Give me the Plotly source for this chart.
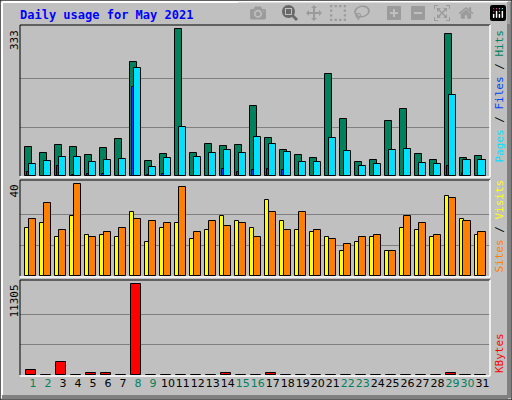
import plotly.graph_objects as go

days = list(range(1, 32))
hits = [66,52,70,66,48,63,84,258,34,50,333,52,72,68,70,159,86,59,48,41,231,129,32,36,125,152,50,36,322,41,45]
files = [27,34,43,43,32,36,39,245,20,41,111,43,52,59,52,88,72,54,32,32,86,57,23,27,59,61,29,27,183,36,36]
pages = [9,0,23,2,5,5,0,202,2,5,0,0,0,16,9,14,16,14,0,0,0,0,0,0,0,0,0,0,23,7,0]
sites = [21,23,17,26,18,18,17,28,15,21,23,16,20,26,24,21,33,24,20,19,17,11,15,17,11,21,20,17,35,25,18]
visits = [25,32,20,40,17,19,21,25,24,23,39,19,24,22,23,17,28,20,28,20,16,14,17,18,11,26,23,18,34,24,19]
kbytes = [620,40,1615,40,250,250,40,11305,40,40,40,40,40,250,40,40,250,40,40,40,40,40,40,40,40,40,40,40,250,40,40]
weekend = [1,2,8,9,15,16,22,23,29,30]

fig = go.Figure()
ln = dict(color="black", width=1)
def bar(y, color, off, w, ax):
    fig.add_trace(go.Bar(x=days, y=y, marker=dict(color=color, line=ln), offset=off, width=w,
                         xaxis="x", yaxis=ax, showlegend=False, hoverinfo="skip"))
bar(hits, "#00805C", -0.53, 0.47, "y")
bar(files, "#00E0FF", -0.27, 0.47, "y")
bar(pages, "#0040FF", -0.4, 0.13, "y")
bar(sites, "#FFFF00", -0.53, 0.27, "y2")
bar(visits, "#FF8000", -0.27, 0.47, "y2")
bar(kbytes, "#FF0000", -0.47, 0.67, "y3")

ticktext = [f"<span style='color:{'#00805C' if d in weekend else 'black'}'>{d}</span>" for d in days]
x0, x1 = 20/512, 490/512
def ydom(t, b): return [1-b/400, 1-t/400]
common = dict(showticklabels=False, gridcolor="#808080", gridwidth=1, zeroline=False, showline=False, fixedrange=True)
fig.update_layout(
    width=512, height=400, margin=dict(l=0, r=0, t=0, b=0),
    paper_bgcolor="#C0C0C0", plot_bgcolor="#C0C0C0", barmode="overlay", bargap=0,
    font=dict(family="DejaVu Sans Mono", size=11, color="black"),
    xaxis=dict(domain=[x0, x1], range=[0.13, 31.5], tickvals=days, ticktext=ticktext, anchor="y3",
               showgrid=False, ticks="", tickangle=0, automargin=False, tickfont=dict(family="DejaVu Sans", size=11)),
    yaxis=dict(domain=ydom(25, 176), range=[0, 343], tickvals=[111, 222], **common),
    yaxis2=dict(domain=ydom(180, 276), range=[0, 41.9], tickvals=[13.33, 26.67], **common),
    yaxis3=dict(domain=ydom(280, 375), range=[0, 11841], tickvals=[3768, 7537], **common),
)
shapes = []
def px(x): return x/512
def py(y): return 1-y/400
shapes.append(dict(type="rect", xref="paper", yref="paper", x0=0, x1=1, y0=0, y1=1, line=dict(color="black", width=1)))
shapes.append(dict(type="line", xref="paper", yref="paper", x0=px(2), x1=px(2), y0=py(398), y1=py(2), line=dict(color="white", width=2)))
shapes.append(dict(type="line", xref="paper", yref="paper", x0=px(2), x1=px(508), y0=py(2), y1=py(2), line=dict(color="white", width=2)))
shapes.append(dict(type="line", xref="paper", yref="paper", x0=px(509), x1=px(509), y0=py(398), y1=py(2), line=dict(color="#808080", width=4)))
shapes.append(dict(type="line", xref="paper", yref="paper", x0=px(2), x1=px(508), y0=py(397), y1=py(397), line=dict(color="#808080", width=4)))
for t, b in [(25, 176), (180, 276), (280, 375)]:
    shapes.append(dict(type="line", xref="paper", yref="paper", x0=px(20), x1=px(490), y0=py(t), y1=py(t), line=dict(color="black", width=1)))
    shapes.append(dict(type="line", xref="paper", yref="paper", x0=px(20), x1=px(20), y0=py(t), y1=py(b), line=dict(color="black", width=1)))
    shapes.append(dict(type="line", xref="paper", yref="paper", x0=px(20), x1=px(490), y0=py(b+1), y1=py(b+1), line=dict(color="white", width=1.5)))
    shapes.append(dict(type="line", xref="paper", yref="paper", x0=px(490), x1=px(490), y0=py(t), y1=py(b+1), line=dict(color="white", width=1.5)))
fig.update_layout(shapes=shapes)

ann = [
    dict(x=px(18), y=py(15), text="<b>Daily usage for May 2021</b>", font=dict(color="#0000FF", size=12), xanchor="left", yanchor="middle"),
    dict(x=px(14), y=py(28), text="333", textangle=-90, xanchor="center", yanchor="top"),
    dict(x=px(14), y=py(183), text="40", textangle=-90, xanchor="center", yanchor="top"),
    dict(x=px(14), y=py(283), text="11305", textangle=-90, xanchor="center", yanchor="top"),
    dict(x=px(499), y=py(28), textangle=-90, xanchor="center", yanchor="top",
         text="<span style='color:#00E0FF'>Pages</span> / <span style='color:#0040FF'>Files</span> / <span style='color:#00805C'>Hits</span>"),
    dict(x=px(499), y=py(275), textangle=-90, xanchor="center", yanchor="bottom",
         text="<span style='color:#FF8000'>Sites</span> / <span style='color:#FFFF00'>Visits</span>"),
    dict(x=px(499), y=py(375), textangle=-90, xanchor="center", yanchor="bottom",
         text="<span style='color:#FF0000'>KBytes</span>"),
]
for a in ann:
    a.update(xref="paper", yref="paper", showarrow=False)
fig.update_layout(annotations=ann)
fig.write_html("out.html", post_script="document.body.style.margin='0';document.body.style.overflow='hidden';")
